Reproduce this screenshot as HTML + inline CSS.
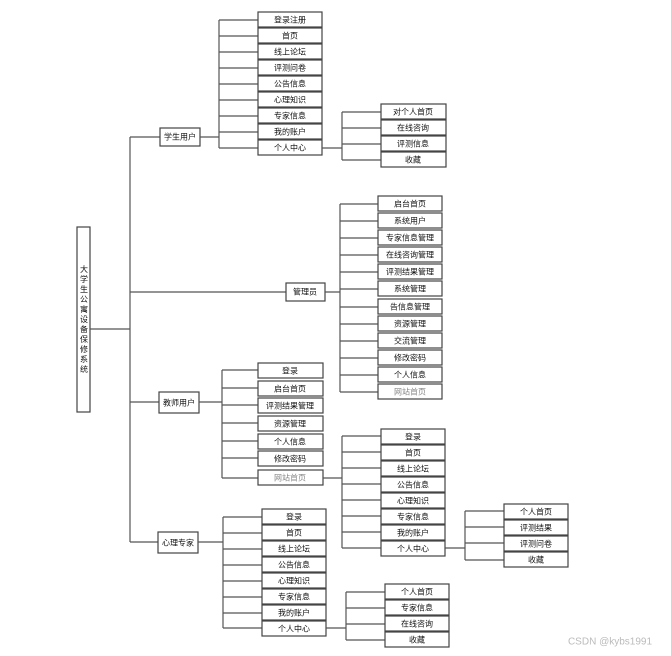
<!DOCTYPE html>
<html><head><meta charset="utf-8"><style>
html,body{margin:0;padding:0;background:#fff}
svg{display:block}
text{font-family:"Liberation Sans","Noto Sans CJK SC",sans-serif;font-size:8px;fill:#111;text-anchor:middle;dominant-baseline:central}
rect{fill:#fff;stroke:#444;stroke-width:1.2}
line,path{stroke:#555;stroke-width:1.2;fill:none}
</style></head><body>
<svg width="671" height="656" viewBox="0 0 671 656">
<!-- root -->
<rect x="77" y="227" width="13" height="185"/>
<text x="84" y="320" style="writing-mode:vertical-rl;letter-spacing:2px">大学生公寓设备保修系统</text>
<line x1="90" y1="329" x2="130" y2="329"/>
<line x1="130" y1="137" x2="130" y2="542"/>
<line x1="130" y1="137" x2="160" y2="137"/>
<line x1="130" y1="292" x2="286" y2="292"/>
<line x1="130" y1="402" x2="159" y2="402"/>
<line x1="130" y1="542" x2="158" y2="542"/>

<!-- student -->
<rect x="160" y="128" width="40" height="18"/><text x="180" y="137">学生用户</text>
<line x1="200" y1="137" x2="219" y2="137"/>
<path d="M219 20V148M219 20H258M219 36H258M219 52H258M219 68H258M219 84H258M219 100H258M219 116H258M219 132H258M219 148H258"/>
<rect x="258" y="12" width="64" height="15"/><text x="290" y="20">登录注册</text>
<rect x="258" y="28" width="64" height="15"/><text x="290" y="36">首页</text>
<rect x="258" y="44" width="64" height="15"/><text x="290" y="52">线上论坛</text>
<rect x="258" y="60" width="64" height="15"/><text x="290" y="68">评测问卷</text>
<rect x="258" y="76" width="64" height="15"/><text x="290" y="84">公告信息</text>
<rect x="258" y="92" width="64" height="15"/><text x="290" y="100">心理知识</text>
<rect x="258" y="108" width="64" height="15"/><text x="290" y="116">专家信息</text>
<rect x="258" y="124" width="64" height="15"/><text x="290" y="132">我的账户</text>
<rect x="258" y="140" width="64" height="15"/><text x="290" y="148">个人中心</text>
<path d="M322 148H342M342 112V160M342 112H381M342 128H381M342 144H381M342 160H381"/>
<rect x="381" y="104" width="65" height="15"/><text x="413" y="112">对个人首页</text>
<rect x="381" y="120" width="65" height="15"/><text x="413" y="128">在线咨询</text>
<rect x="381" y="136" width="65" height="15"/><text x="413" y="144">评测信息</text>
<rect x="381" y="152" width="65" height="15"/><text x="413" y="160">收藏</text>

<!-- admin -->
<rect x="286" y="283" width="39" height="18"/><text x="305" y="292">管理员</text>
<path d="M325 292H340M340 204V392M340 204H378M340 221H378M340 238H378M340 255H378M340 272H378M340 289H378M340 307H378M340 324H378M340 341H378M340 358H378M340 375H378M340 392H378"/>
<rect x="378" y="196" width="64" height="15"/><text x="410" y="204">启台首页</text>
<rect x="378" y="213" width="64" height="15"/><text x="410" y="221">系统用户</text>
<rect x="378" y="230" width="64" height="15"/><text x="410" y="238">专家信息管理</text>
<rect x="378" y="247" width="64" height="15"/><text x="410" y="255">在线咨询管理</text>
<rect x="378" y="264" width="64" height="15"/><text x="410" y="272">评测结果管理</text>
<rect x="378" y="281" width="64" height="15"/><text x="410" y="289">系统管理</text>
<rect x="378" y="299" width="64" height="15"/><text x="410" y="307">告信息管理</text>
<rect x="378" y="316" width="64" height="15"/><text x="410" y="324">资源管理</text>
<rect x="378" y="333" width="64" height="15"/><text x="410" y="341">交流管理</text>
<rect x="378" y="350" width="64" height="15"/><text x="410" y="358">修改密码</text>
<rect x="378" y="367" width="64" height="15"/><text x="410" y="375">个人信息</text>
<rect x="378" y="384" width="64" height="15"/><text x="410" y="392" style="fill:#888">网站首页</text>

<!-- teacher -->
<rect x="159" y="392" width="40" height="21"/><text x="179" y="403">教师用户</text>
<path d="M199 402H222M222 370V478M222 370H258M222 388H258M222 405H258M222 423H258M222 441H258M222 458H258M222 478H258"/>
<rect x="258" y="363" width="65" height="15"/><text x="290" y="371">登录</text>
<rect x="258" y="381" width="65" height="15"/><text x="290" y="389">启台首页</text>
<rect x="258" y="398" width="65" height="15"/><text x="290" y="406">评测结果管理</text>
<rect x="258" y="416" width="65" height="15"/><text x="290" y="424">资源管理</text>
<rect x="258" y="434" width="65" height="15"/><text x="290" y="442">个人信息</text>
<rect x="258" y="451" width="65" height="15"/><text x="290" y="459">修改密码</text>
<rect x="258" y="470" width="65" height="15"/><text x="290" y="478" style="fill:#888">网站首页</text>
<path d="M323 478H342M342 436V548M342 436H381M342 452H381M342 468H381M342 484H381M342 500H381M342 516H381M342 532H381M342 548H381"/>
<rect x="381" y="429" width="64" height="15"/><text x="413" y="437">登录</text>
<rect x="381" y="445" width="64" height="15"/><text x="413" y="453">首页</text>
<rect x="381" y="461" width="64" height="15"/><text x="413" y="469">线上论坛</text>
<rect x="381" y="477" width="64" height="15"/><text x="413" y="485">公告信息</text>
<rect x="381" y="493" width="64" height="15"/><text x="413" y="501">心理知识</text>
<rect x="381" y="509" width="64" height="15"/><text x="413" y="517">专家信息</text>
<rect x="381" y="525" width="64" height="15"/><text x="413" y="533">我的账户</text>
<rect x="381" y="541" width="64" height="15"/><text x="413" y="549">个人中心</text>
<path d="M445 548H465M465 511V560M465 511H504M465 527H504M465 543H504M465 560H504"/>
<rect x="504" y="504" width="64" height="15"/><text x="536" y="512">个人首页</text>
<rect x="504" y="520" width="64" height="15"/><text x="536" y="528">评测结果</text>
<rect x="504" y="536" width="64" height="15"/><text x="536" y="544">评测问卷</text>
<rect x="504" y="552" width="64" height="15"/><text x="536" y="560">收藏</text>

<!-- expert -->
<rect x="158" y="532" width="40" height="21"/><text x="178" y="543">心理专家</text>
<path d="M198 542H223M223 517V628M223 517H262M223 533H262M223 549H262M223 565H262M223 581H262M223 597H262M223 613H262M223 628H262"/>
<rect x="262" y="509" width="64" height="15"/><text x="294" y="517">登录</text>
<rect x="262" y="525" width="64" height="15"/><text x="294" y="533">首页</text>
<rect x="262" y="541" width="64" height="15"/><text x="294" y="549">线上论坛</text>
<rect x="262" y="557" width="64" height="15"/><text x="294" y="565">公告信息</text>
<rect x="262" y="573" width="64" height="15"/><text x="294" y="581">心理知识</text>
<rect x="262" y="589" width="64" height="15"/><text x="294" y="597">专家信息</text>
<rect x="262" y="605" width="64" height="15"/><text x="294" y="613">我的账户</text>
<rect x="262" y="621" width="64" height="15"/><text x="294" y="629">个人中心</text>
<path d="M326 628H346M346 592V640M346 592H385M346 608H385M346 624H385M346 640H385"/>
<rect x="385" y="584" width="64" height="15"/><text x="417" y="592">个人首页</text>
<rect x="385" y="600" width="64" height="15"/><text x="417" y="608">专家信息</text>
<rect x="385" y="616" width="64" height="15"/><text x="417" y="624">在线咨询</text>
<rect x="385" y="632" width="64" height="15"/><text x="417" y="640">收藏</text>

<text x="610" y="642" style="fill:#bbb;font-size:10px">CSDN @kybs1991</text>
</svg>
</body></html>
